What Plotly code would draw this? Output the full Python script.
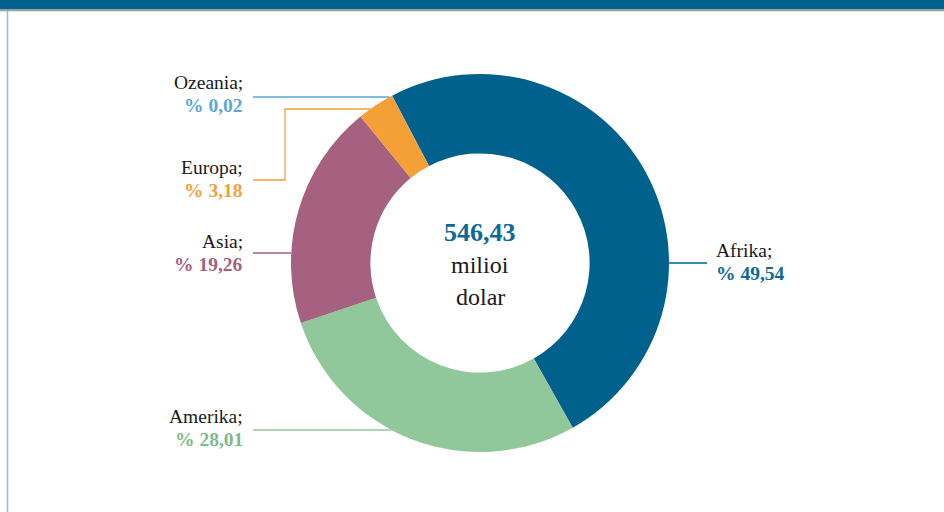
import math
import plotly.graph_objects as go

# ---- data ----
regions = ["Afrika", "Amerika", "Asia", "Europa", "Ozeania"]
shares = [49.54, 28.01, 19.26, 3.18, 0.02]
share_labels = ["% 49,54", "% 28,01", "% 19,26", "% 3,18", "% 0,02"]
slice_colors = ["#00628C", "#90C89B", "#A5617F", "#F4A037", "#5AA6D6"]
text_colors = ["#0E6A92", "#7DBA8A", "#A5617F", "#F2A03A", "#5AA6D6"]
total_value = "546,43"
total_unit = ["milioi", "dolar"]

W, H = 944, 512
CX, CY, R = 480, 263, 189      # donut centre / outer radius in px
HOLE = 0.58

FONT = "Liberation Serif"


def px(x):
    return x / W


def py(y):
    return 1 - y / H


fig = go.Figure()
fig.add_trace(go.Pie(
    labels=regions,
    values=shares,
    sort=False,
    direction="clockwise",
    rotation=-27.7,
    hole=HOLE,
    marker=dict(colors=slice_colors, line=dict(width=0)),
    textinfo="none",
    hoverinfo="label+percent",
    showlegend=False,
    domain=dict(x=[px(CX - R), px(CX + R)], y=[py(CY + R), py(CY - R)]),
))


def circle_x(y, side):
    dy = y - CY
    return CX + side * math.sqrt(max(R * R - dy * dy, 0))


shapes = []
# top banner + grey rule + left border
shapes.append(dict(type="rect", xref="paper", yref="paper", x0=0, x1=1,
                   y0=py(9.5), y1=1, fillcolor="#00628C", line=dict(width=0), layer="below"))
shapes.append(dict(type="line", xref="paper", yref="paper", x0=0, x1=1,
                   y0=py(10.5), y1=py(10.5), line=dict(color="#9A9A9A", width=1.5)))
shapes.append(dict(type="line", xref="paper", yref="paper", x0=px(7.5), x1=px(7.5),
                   y0=py(11), y1=0, line=dict(color="#86C3E3", width=1.5)))

# leader lines: label y (px), side, x where the line starts, optional elbow
LEFT_X = 253
leaders = {
    "Afrika": dict(y=263, side=1, x_lab=707),
    "Amerika": dict(y=430, side=-1, x_lab=LEFT_X),
    "Asia": dict(y=253, side=-1, x_lab=LEFT_X),
    "Europa": dict(y=180, side=-1, x_lab=LEFT_X, elbow_x=285, target_y=109),
    "Ozeania": dict(y=97, side=-1, x_lab=LEFT_X),
}
for name, col in zip(regions, slice_colors):
    L = leaders[name]
    lc = dict(color=col, width=1.3)
    if "elbow_x" in L:
        ex = L["elbow_x"]
        ty = L["target_y"]
        pts = [(L["x_lab"], L["y"]), (ex, L["y"]), (ex, ty), (circle_x(ty, -1), ty)]
        path = "M " + " L ".join(f"{px(a)},{py(b)}" for a, b in pts)
        shapes.append(dict(type="path", xref="paper", yref="paper", path=path, line=lc))
    else:
        x_end = circle_x(L["y"], L["side"])
        shapes.append(dict(type="line", xref="paper", yref="paper",
                           x0=px(L["x_lab"]), x1=px(x_end), y0=py(L["y"]), y1=py(L["y"]), line=lc))

annotations = []
label_pos = {
    "Afrika": (714, 250, "left"),
    "Amerika": (245, 416, "right"),
    "Asia": (245, 241, "right"),
    "Europa": (245, 167, "right"),
    "Ozeania": (245, 82, "right"),
}
for name, lab, tc in zip(regions, share_labels, text_colors):
    x, y, al = label_pos[name]
    annotations.append(dict(x=px(x), y=py(y), xref="paper", yref="paper", text=name + ";",
                            showarrow=False, xanchor=al, yanchor="middle",
                            font=dict(family=FONT, size=19.5, color="#1A1A1A")))
    annotations.append(dict(x=px(x), y=py(y + 23), xref="paper", yref="paper", text="<b>" + lab + "</b>",
                            showarrow=False, xanchor=al, yanchor="middle",
                            font=dict(family=FONT, size=19.5, color=tc)))

annotations.append(dict(x=px(CX), y=py(232), xref="paper", yref="paper", text="<b>" + total_value + "</b>",
                        showarrow=False, xanchor="center", yanchor="middle",
                        font=dict(family=FONT, size=26, color="#0E6A92")))
for i, t in enumerate(total_unit):
    annotations.append(dict(x=px(CX), y=py(265 + 32 * i), xref="paper", yref="paper", text=t,
                            showarrow=False, xanchor="center", yanchor="middle",
                            font=dict(family=FONT, size=24, color="#1A1A1A")))

fig.update_layout(
    width=W, height=H,
    margin=dict(l=0, r=0, t=0, b=0),
    paper_bgcolor="white",
    plot_bgcolor="white",
    shapes=shapes,
    annotations=annotations,
)

fig.write_html("out.html", config={"displayModeBar": False},
               post_script="document.body.style.margin='0';")
